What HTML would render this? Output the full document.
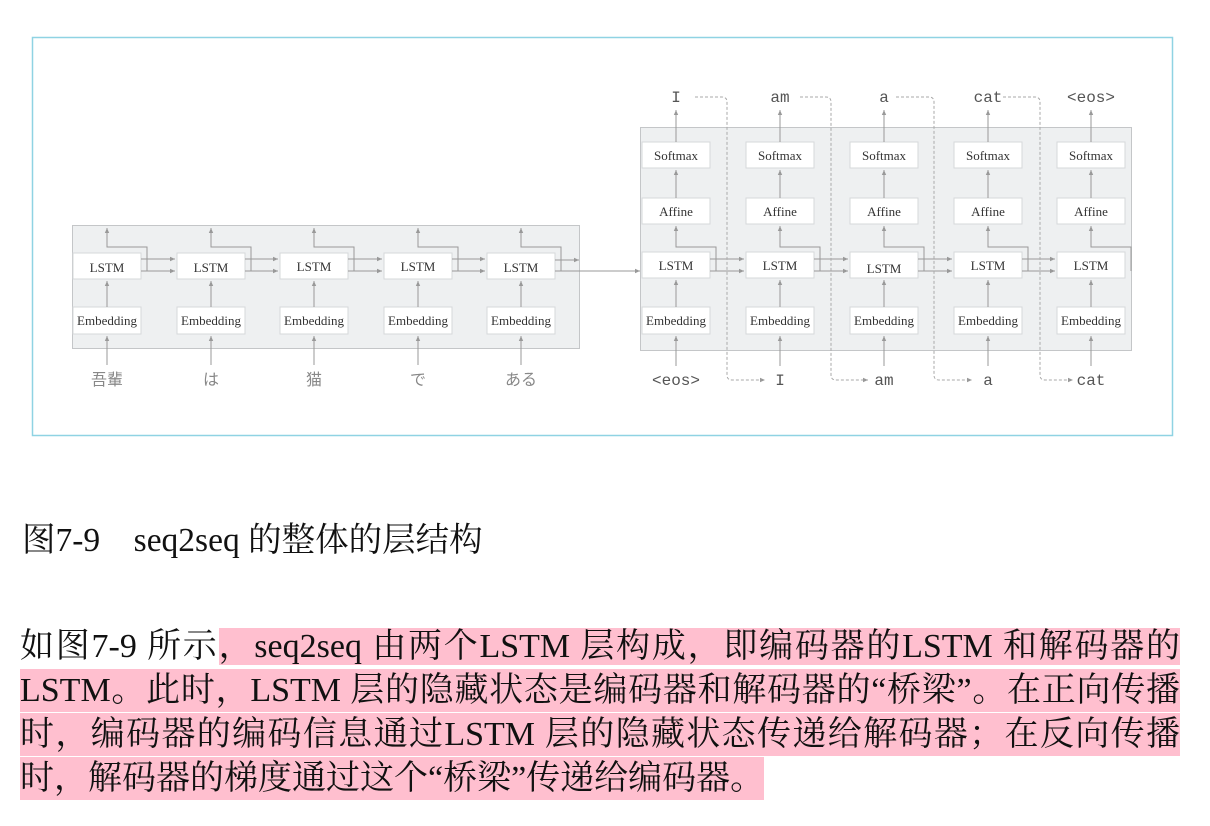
<!DOCTYPE html>
<html><head><meta charset="utf-8">
<style>
body{margin:0;background:#fff;width:1210px;height:826px;overflow:hidden;position:relative;font-family:"Liberation Serif","Noto Serif CJK SC",serif;}
svg{position:absolute;left:0;top:0}
.cap{position:absolute;left:22px;top:519px;font-size:33.5px;line-height:44px;color:#111;white-space:nowrap}
.p{position:absolute;left:20px;width:1160px;font-size:34px;color:#111;line-height:43px;height:43px;text-align:justify;text-align-last:justify;white-space:nowrap}
.h{background:#ffbfcf}
</style></head><body>
<svg width="1210" height="500" xmlns="http://www.w3.org/2000/svg">
<defs>
<marker id="a" markerWidth="6" markerHeight="6" refX="5" refY="3" orient="auto"><path d="M0,0.8 L5,3 L0,5.2z" fill="#999"/></marker>
</defs>
<rect x="32.5" y="37.5" width="1140" height="398" fill="none" stroke="#8fd3e3" stroke-width="1.5"/>
<rect x="72.5" y="225.5" width="507" height="123" fill="#eef0f1" stroke="#c4c6c8"/>
<rect x="640.5" y="127.5" width="491" height="223" fill="#eef0f1" stroke="#c4c6c8"/>
<g fill="#fff" stroke="#d6d8da">
<rect x="73" y="253" width="68" height="26"/><rect x="177" y="253" width="68" height="26"/><rect x="280" y="253" width="68" height="26"/><rect x="384" y="253" width="68" height="26"/><rect x="487" y="253" width="68" height="26"/>
<rect x="73" y="307" width="68" height="27"/><rect x="177" y="307" width="68" height="27"/><rect x="280" y="307" width="68" height="27"/><rect x="384" y="307" width="68" height="27"/><rect x="487" y="307" width="68" height="27"/>
<rect x="642" y="142" width="68" height="26"/><rect x="746" y="142" width="68" height="26"/><rect x="850" y="142" width="68" height="26"/><rect x="954" y="142" width="68" height="26"/><rect x="1057" y="142" width="68" height="26"/>
<rect x="642" y="198" width="68" height="26"/><rect x="746" y="198" width="68" height="26"/><rect x="850" y="198" width="68" height="26"/><rect x="954" y="198" width="68" height="26"/><rect x="1057" y="198" width="68" height="26"/>
<rect x="642" y="252" width="68" height="26"/><rect x="746" y="252" width="68" height="26"/><rect x="850" y="252" width="68" height="26"/><rect x="954" y="252" width="68" height="26"/><rect x="1057" y="252" width="68" height="26"/>
<rect x="642" y="307" width="68" height="27"/><rect x="746" y="307" width="68" height="27"/><rect x="850" y="307" width="68" height="27"/><rect x="954" y="307" width="68" height="27"/><rect x="1057" y="307" width="68" height="27"/>
</g>
<g stroke="#999" fill="none" stroke-width="1" marker-end="url(#a)">
<path d="M107 365V336"/><path d="M211 365V336"/><path d="M314 365V336"/><path d="M418 365V336"/><path d="M521 365V336"/>
<path d="M107 307V281"/><path d="M211 307V281"/><path d="M314 307V281"/><path d="M418 307V281"/><path d="M521 307V281"/>
<path d="M147 271V247H107V228"/><path d="M251 271V247H211V228"/><path d="M354 271V247H314V228"/><path d="M458 271V247H418V228"/><path d="M561 271V247H521V228"/>
<path d="M141 259H175"/><path d="M141 271H175"/><path d="M245 259H278"/><path d="M245 271H278"/><path d="M348 259H382"/><path d="M348 271H382"/><path d="M452 259H485"/><path d="M452 271H485"/>
<path d="M555 260H579"/><path d="M555 271H640"/>
<path d="M676 366V336"/><path d="M780 366V336"/><path d="M884 366V336"/><path d="M988 366V336"/><path d="M1091 366V336"/>
<path d="M676 307V280"/><path d="M780 307V280"/><path d="M884 307V280"/><path d="M988 307V280"/><path d="M1091 307V280"/>
<path d="M716 271V247H676V226"/><path d="M820 271V247H780V226"/><path d="M924 271V247H884V226"/><path d="M1028 271V247H988V226"/><path d="M1131 271V247H1091V226"/>
<path d="M676 198V170"/><path d="M780 198V170"/><path d="M884 198V170"/><path d="M988 198V170"/><path d="M1091 198V170"/>
<path d="M676 142V110"/><path d="M780 142V110"/><path d="M884 142V110"/><path d="M988 142V110"/><path d="M1091 142V110"/>
<path d="M710 259H744"/><path d="M710 271H744"/><path d="M814 259H848"/><path d="M814 271H848"/><path d="M918 259H952"/><path d="M918 271H952"/><path d="M1022 259H1055"/><path d="M1022 271H1055"/>
</g>
<g stroke="#aaa" fill="none" stroke-dasharray="3,2" marker-end="url(#a)">
<path d="M695 97H722Q727 97 727 102V375Q727 380 732 380H765"/>
<path d="M800 97H826Q831 97 831 102V375Q831 380 836 380H868"/>
<path d="M896 97H929Q934 97 934 102V375Q934 380 939 380H972"/>
<path d="M1003 97H1035Q1040 97 1040 102V375Q1040 380 1045 380H1073"/>
</g>
<g font-family="Liberation Serif,serif" font-size="13" fill="#333" text-anchor="middle">
<text x="107" y="272">LSTM</text><text x="211" y="272">LSTM</text><text x="314" y="271">LSTM</text><text x="418" y="271">LSTM</text><text x="521" y="272">LSTM</text>
<text x="107" y="325">Embedding</text><text x="211" y="325">Embedding</text><text x="314" y="325">Embedding</text><text x="418" y="325">Embedding</text><text x="521" y="325">Embedding</text>
<text x="676" y="160">Softmax</text><text x="780" y="160">Softmax</text><text x="884" y="160">Softmax</text><text x="988" y="160">Softmax</text><text x="1091" y="160">Softmax</text>
<text x="676" y="216">Affine</text><text x="780" y="216">Affine</text><text x="884" y="216">Affine</text><text x="988" y="216">Affine</text><text x="1091" y="216">Affine</text>
<text x="676" y="270">LSTM</text><text x="780" y="270">LSTM</text><text x="884" y="273">LSTM</text><text x="988" y="270">LSTM</text><text x="1091" y="270">LSTM</text>
<text x="676" y="325">Embedding</text><text x="780" y="325">Embedding</text><text x="884" y="325">Embedding</text><text x="988" y="325">Embedding</text><text x="1091" y="325">Embedding</text>
</g>
<g font-family="Liberation Mono,monospace" font-size="16" fill="#555" text-anchor="middle">
<text x="676" y="102">I</text><text x="780" y="102">am</text><text x="884" y="102">a</text><text x="988" y="102">cat</text><text x="1091" y="102">&lt;eos&gt;</text>
<text x="676" y="385">&lt;eos&gt;</text><text x="780" y="385">I</text><text x="884" y="385">am</text><text x="988" y="385">a</text><text x="1091" y="385">cat</text>
</g>
<g font-family="Noto Sans CJK JP,sans-serif" font-size="16" fill="#888" text-anchor="middle">
<text x="107" y="385">吾輩</text><text x="211" y="385">は</text><text x="314" y="385">猫</text><text x="418" y="385">で</text><text x="521" y="385">ある</text>
</g>
</svg>
<div class="cap">图7-9&nbsp;&nbsp;&nbsp;&nbsp;seq2seq 的整体的层结构</div>
<div class="p" style="top:625px">如图7-9 所示<span class="h">，seq2seq 由两个LSTM 层构成，即编码器的LSTM 和解码器的</span></div>
<div class="p h" style="top:669px">LSTM。此时，LSTM 层的隐藏状态是编码器和解码器的“桥梁”。在正向传播</div>
<div class="p h" style="top:713px">时，编码器的编码信息通过LSTM 层的隐藏状态传递给解码器；在反向传播</div>
<div class="p" style="top:757px;text-align-last:left;width:auto"><span class="h" style="display:inline-block;height:43px">时，解码器的梯度通过这个“桥梁”传递给编码器。</span></div>
</body></html>
